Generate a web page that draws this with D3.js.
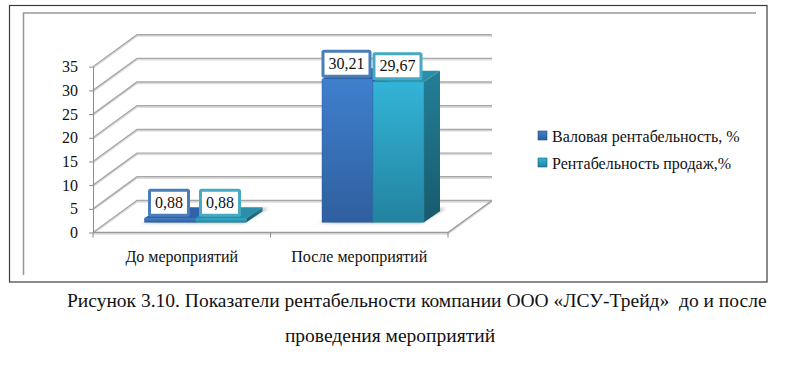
<!DOCTYPE html>
<html>
<head>
<meta charset="utf-8">
<script src="https://cdn.jsdelivr.net/npm/d3@7"></script>
<style>
    html, body { margin: 0; padding: 0; background: #ffffff; }
    text { font-family: "Liberation Serif", serif; fill: #111111; white-space: pre; }
</style>
</head>
<body>
<div id="chart"></div>
<script>
// chart data
var categories = ["До мероприятий", "После мероприятий"];
var seriesNames = ["Валовая рентабельность, %", "Рентабельность продаж,%"];
var grossMargin = [0.88, 30.21];
var salesMargin = [0.88, 29.67];
var valueLabels = [["0,88", "30,21"], ["0,88", "29,67"]];
var yTicks = [0, 5, 10, 15, 20, 25, 30, 35];
var captionLines = [
    "Рисунок 3.10. Показатели рентабельности компании ООО «ЛСУ-Трейд»  до и после",
    "проведения мероприятий"
];

var seriesValues = [grossMargin, salesMargin];

// colours: front top/bottom, top face, side top/bottom, label border
var colors = [
    {front0: "#3f7fcd", front1: "#2f5f9f", top: "#2f62a8", side0: "#2c5a96", side1: "#234a7c", border: "#4a7ebb"},
    {front0: "#33b4d8", front1: "#22839f", top: "#2b8fa9", side0: "#237f97", side1: "#185a6c", border: "#46aac4"}
];

var width = 800, height = 381;
var svg = d3.select("#chart").append("svg")
    .attr("width", width)
    .attr("height", height)
    .style("display", "block");

var defs = svg.append("defs");

colors.forEach(function(c, i) {
    var g = defs.append("linearGradient").attr("id", "front" + i)
        .attr("x1", 0).attr("y1", 0).attr("x2", 0).attr("y2", 1);
    g.append("stop").attr("offset", "0%").attr("stop-color", c.front0);
    g.append("stop").attr("offset", "100%").attr("stop-color", c.front1);
    var s = defs.append("linearGradient").attr("id", "side" + i)
        .attr("x1", 0).attr("y1", 0).attr("x2", 0).attr("y2", 1);
    s.append("stop").attr("offset", "0%").attr("stop-color", c.side0);
    s.append("stop").attr("offset", "100%").attr("stop-color", c.side1);
});

var blur = defs.append("filter").attr("id", "soft")
    .attr("x", "-20%").attr("y", "-100%").attr("width", "140%").attr("height", "300%");
blur.append("feGaussianBlur").attr("stdDeviation", 1.5);

// outer frame and the inner chart border
svg.append("rect")
    .attr("x", 9.5).attr("y", 5.5)
    .attr("width", 757.5).attr("height", 276.5)
    .attr("fill", "none")
    .attr("stroke", "#3c3c3c")
    .attr("stroke-width", 1.2);

svg.append("path")
    .attr("d", "M23.5,275V13H756")
    .attr("fill", "none")
    .attr("stroke", "#969696")
    .attr("stroke-width", 1.5);

// scales
var plotLeft = 93, plotRight = 448, plotBottom = 232.5, plotTop = 66.7;
var wallDx = 44, wallDy = -32;      // depth of the floor
var barDepthX = 16, barDepthY = -11; // depth of a bar
var barBase = 222.3;

var x = d3.scaleBand().domain(categories).range([plotLeft, plotRight]);
var y = d3.scaleLinear().domain([0, 35]).range([plotBottom, plotTop]);
var xBar = d3.scaleBand().domain(d3.range(seriesNames.length)).range([0, 102]);
var barH = function(v) { return plotBottom - y(v); };
var groupLeft = function(c) { return x(c) + 51.5; };

// walls
var grid = svg.append("g").attr("fill", "none");

yTicks.forEach(function(t) {
    var yy = y(t);
    var pts = "M" + plotLeft + "," + yy + "L" + (plotLeft + wallDx) + "," + (yy + wallDy) + "H" + (plotRight + wallDx);
    grid.append("path").attr("d", pts).attr("stroke", "#dddddd").attr("stroke-width", 1.5)
        .attr("transform", "translate(0,1.4)");
    grid.append("path").attr("d", pts).attr("stroke", "#a8a8a8").attr("stroke-width", 1.4);
});

// floor edges
grid.append("path")
    .attr("d", "M" + plotLeft + "," + plotBottom + "H" + plotRight + "L" + (plotRight + wallDx) + "," + (plotBottom + wallDy))
    .attr("stroke", "#dddddd").attr("stroke-width", 1.5)
    .attr("transform", "translate(0,1.4)");
grid.append("path")
    .attr("d", "M" + plotLeft + "," + plotBottom + "H" + plotRight + "L" + (plotRight + wallDx) + "," + (plotBottom + wallDy))
    .attr("stroke", "#9a9a9a").attr("stroke-width", 1.4);

// shadow on the floor under each group
categories.forEach(function(c) {
    var l = groupLeft(c);
    svg.append("path")
        .attr("d", "M" + (l - 5) + "," + (barBase + 1) + "H" + (l + 99) + "L" + (l + 124) + "," + (barBase - 14) + "H" + (l + 100) + "Z")
        .attr("fill", "#8a8a8a")
        .attr("opacity", 0.6)
        .attr("filter", "url(#soft)");
});

// bars
seriesValues.forEach(function(values, s) {
    var bars = svg.append("g").attr("class", "series-" + s);

    values.forEach(function(v, i) {
        var c = categories[i];
        var bx = groupLeft(c) + xBar(s);
        var bw = xBar.bandwidth();
        var topY = barBase - barH(v);

        //side face
        bars.append("path")
            .attr("d", "M" + (bx + bw) + "," + barBase + "V" + topY +
                "l" + barDepthX + "," + barDepthY + "V" + (barBase + barDepthY) + "Z")
            .attr("fill", "url(#side" + s + ")");

        //top face
        bars.append("path")
            .attr("d", "M" + bx + "," + topY + "h" + bw +
                "l" + barDepthX + "," + barDepthY + "h" + (-bw) + "Z")
            .attr("fill", colors[s].top);

        //front face
        bars.append("rect")
            .attr("x", bx)
            .attr("y", topY)
            .attr("width", bw)
            .attr("height", barH(v))
            .attr("fill", "url(#front" + s + ")")
            .attr("stroke", colors[s].front1)
            .attr("stroke-opacity", 0.6)
            .attr("stroke-width", 0.8);
    });
});

// value labels
seriesValues.forEach(function(values, s) {
    values.forEach(function(v, i) {
        var c = categories[i];
        var cx = groupLeft(c) + xBar(s) + xBar.bandwidth() / 2 - 1;
        var bottom = barBase - barH(v) - 2.5;
        var label = svg.append("g");
        var box = label.append("rect")
            .attr("y", bottom - 25.5)
            .attr("height", 25)
            .attr("rx", 1)
            .attr("fill", "#ffffff")
            .attr("stroke", colors[s].border)
            .attr("stroke-width", 3);
        var txt = label.append("text")
            .attr("x", cx)
            .attr("y", bottom - 8)
            .attr("text-anchor", "middle")
            .style("font-size", "16px")
            .text(valueLabels[s][i]);
        var w = txt.node().getComputedTextLength() + 11;
        box.attr("x", cx - w / 2).attr("width", w);
    });
});

// axes
var yAxis = d3.axisLeft(y)
    .tickValues(yTicks)
    .tickSize(4)
    .tickPadding(11)
    .tickSizeOuter(0);

var yG = svg.append("g")
    .attr("transform", "translate(" + plotLeft + ",0)")
    .call(yAxis);
yG.selectAll("line, path").attr("stroke", "#8c8c8c");
yG.selectAll("text").style("font-size", "16px").style("font-family", "Liberation Serif");

var xAxis = d3.axisBottom(x).tickSize(0).tickPadding(18);
var xG = svg.append("g")
    .attr("transform", "translate(0," + plotBottom + ")")
    .call(xAxis);
xG.select("path").remove();
xG.selectAll("text").style("font-size", "16px").style("font-family", "Liberation Serif");

svg.append("g").selectAll("line")
    .data(categories.concat("end"))
    .enter()
    .append("line")
    .attr("x1", d => d === "end" ? plotRight : x(d))
    .attr("x2", d => d === "end" ? plotRight : x(d))
    .attr("y1", plotBottom)
    .attr("y2", plotBottom + 5)
    .attr("stroke", "#8c8c8c");

// legend
var legend = svg.selectAll(".legend")
    .data(seriesNames)
    .enter()
    .append("g")
    .attr("class", "legend")
    .attr("transform", (d, i) => "translate(538," + (131 + i * 27) + ")");

legend.append("rect")
    .attr("width", 9)
    .attr("height", 9)
    .attr("fill", (d, i) => "url(#front" + i + ")")
    .attr("stroke", (d, i) => colors[i].side1)
    .attr("stroke-width", 0.6);

legend.append("text")
    .attr("x", 14)
    .attr("y", 10.5)
    .style("font-size", "16px")
    .text(d => d);

// caption under the frame
svg.append("text")
    .attr("x", 67)
    .attr("y", 307)
    .style("font-size", "19.5px")
    .text(captionLines[0]);

svg.append("text")
    .attr("x", 390)
    .attr("y", 342)
    .attr("text-anchor", "middle")
    .style("font-size", "19.5px")
    .text(captionLines[1]);
</script>
</body>
</html>
